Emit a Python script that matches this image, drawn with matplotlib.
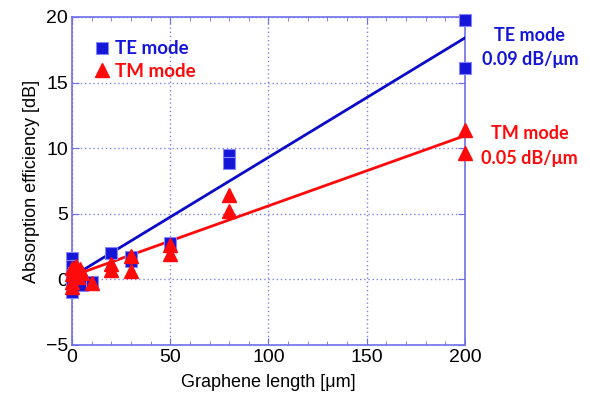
import numpy as np
import matplotlib.pyplot as plt
from matplotlib.ticker import MultipleLocator

# measured points (graphene length in um, absorption in dB)
te_len = [0, 0, 0, 0, 0, 1, 2, 5, 10, 20, 30, 30, 50, 80, 80, 200, 200]
te_abs = [1.6, 1.0, 0.3, -0.5, -1.0, 0.5, 0.2, -0.4, -0.2, 2.0, 1.4, 1.7, 2.8, 9.5, 8.9, 19.8, 16.1]
tm_len = [0, 0, 0, 0, 1, 2, 3, 4, 5, 10, 20, 20, 30, 30, 50, 50, 80, 80, 200, 200]
tm_abs = [0.9, 0.4, -0.2, -0.6, 0.6, 1.0, 0.2, 0.8, 0.5, -0.3, 1.2, 0.7, 1.8, 0.6, 2.6, 1.9, 6.4, 5.2, 11.4, 9.6]

# linear fits (slope dB/um, offset dB)
te_fit = (0.091, 0.2)
tm_fit = (0.0535, 0.25)

BLUE = '#1515d8'
RED = '#ff0a0a'
AXC = '#6f6fe8'

plt.rcParams['font.family'] = ['Liberation Sans', 'DejaVu Sans']

fig = plt.figure(figsize=(5.9, 4.03), dpi=100)
ax = fig.add_axes([0.122, 0.144, 0.666, 0.814])

xx = np.array([0, 200])
ax.plot(xx, te_fit[0] * xx + te_fit[1], color='#0a0ac8', lw=2, zorder=3)
ax.plot(xx, tm_fit[0] * xx + tm_fit[1], color=RED, lw=2, zorder=3)
te = ax.plot(te_len, te_abs, 's', ms=9, color=BLUE, mec='#8585ff', mew=0.8,
             zorder=4, label='TE mode', clip_on=False)[0]
tm = ax.plot(tm_len, tm_abs, '^', ms=10, color=RED, mec=RED, zorder=5,
             label='TM mode', clip_on=False)[0]

ax.set_xlim(0, 200)
ax.set_ylim(-5, 20)
ax.xaxis.set_major_locator(MultipleLocator(50))
ax.xaxis.set_minor_locator(MultipleLocator(10))
ax.yaxis.set_major_locator(MultipleLocator(5))
ax.tick_params(which='both', direction='in', top=True, right=True, color=AXC,
               labelsize=14, pad=3)
ax.tick_params(which='major', length=5)
ax.tick_params(which='minor', length=3, left=False, right=False)
for s in ax.spines.values():
    s.set_color(AXC)
    s.set_linewidth(1.2)
ax.grid(True, which='major', color='#8080f0', ls=(0, (1, 2)), lw=1.0)

ax.set_xlabel('Graphene length [μm]', fontsize=13, labelpad=6)
ax.set_ylabel('Absorption efficiency [dB]', fontsize=13, labelpad=4)

leg = ax.legend(handles=[te, tm], loc='upper left', frameon=False,
                bbox_to_anchor=(0.02, 0.98), handlelength=0.6, handletextpad=0.4,
                borderaxespad=0.5, labelspacing=0.3,
                prop={'family': 'Lato', 'weight': 'bold', 'size': 13.5})
for t, c in zip(leg.get_texts(), [BLUE, RED]):
    t.set_color(c)

fig.text(0.898, 0.882, 'TE mode\n0.09 dB/μm', color=BLUE, ha='center',
         va='center', fontsize=13, fontweight='bold', family=['Lato', 'DejaVu Sans'],
         linespacing=1.55)
fig.text(0.898, 0.637, 'TM mode\n0.05 dB/μm', color=RED, ha='center',
         va='center', fontsize=13, fontweight='bold', family=['Lato', 'DejaVu Sans'],
         linespacing=1.55)

fig.savefig('out.png', dpi=100)
